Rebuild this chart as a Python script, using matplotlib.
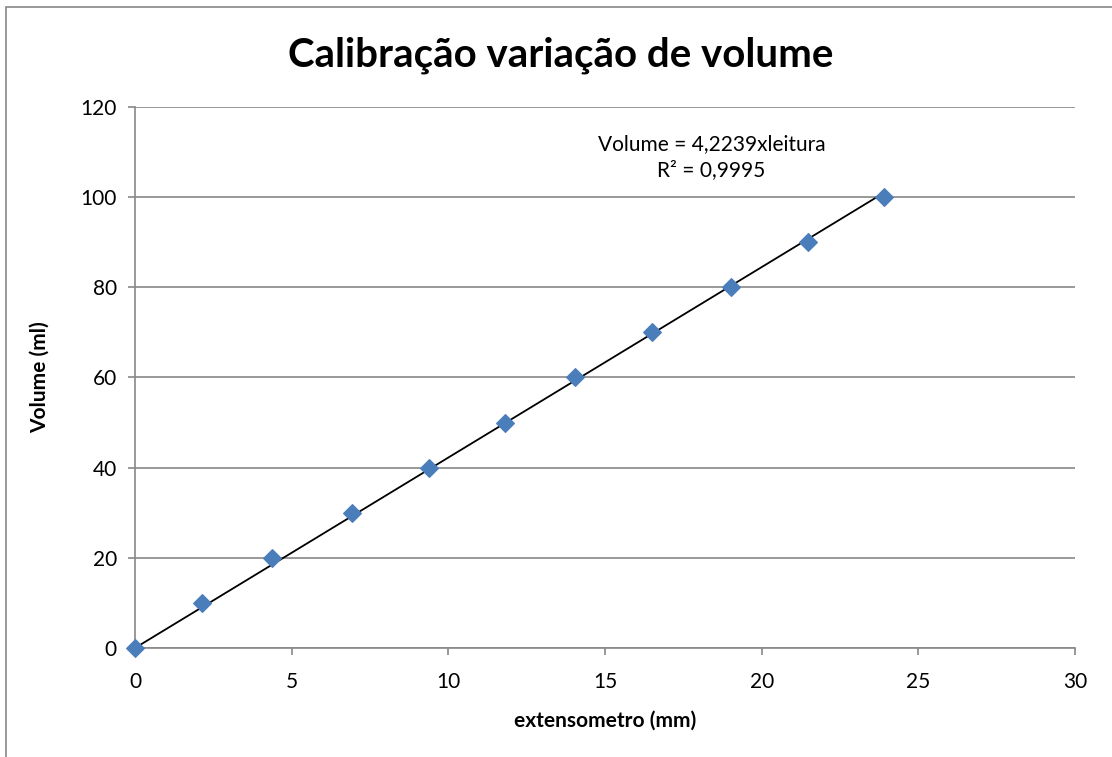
import matplotlib.pyplot as plt
import numpy as np

plt.rcParams['font.family'] = ['Lato', 'DejaVu Sans']

# dados da calibracao
leitura = [0, 2.14, 4.37, 6.93, 9.38, 11.81, 14.04, 16.5, 19.02, 21.48, 23.9]
volume = [0, 10, 20, 30, 40, 50, 60, 70, 80, 90, 100]
coef = 4.2239
r2 = 0.9995

fig = plt.figure(figsize=(11.12, 7.57), dpi=100)
ax = fig.add_axes([0.1214, 0.144, 0.8453, 0.7147])

# moldura externa do grafico
fig.patches.append(plt.Rectangle((0.005, -0.1), 1.2, 1.0908, transform=fig.transFigure,
                                 fill=False, edgecolor='#888888', linewidth=1.2))

xs = np.array([0, max(leitura)])
ax.plot(xs, coef * xs, color='black', linewidth=1.3, zorder=2)
ax.scatter(leitura, volume, marker='D', s=80, color='#4a7ebb', zorder=3, clip_on=False)

ax.set_xlim(0, 30)
ax.set_ylim(0, 120)
ax.set_xticks(range(0, 31, 5))
ax.set_yticks(range(0, 121, 20))
ax.grid(axis='y', color='#888888', linewidth=1.2)
ax.set_axisbelow(True)
for s in ['top', 'right']:
    ax.spines[s].set_visible(False)
for s in ['left', 'bottom']:
    ax.spines[s].set_color('#888888')
    ax.spines[s].set_linewidth(1.2)
ax.tick_params(axis='both', labelsize=15, colors='#888888', labelcolor='black', length=5, width=1.2)
ax.tick_params(axis='x', pad=12)
ax.tick_params(axis='y', pad=8)

# titulo centrado na figura
fig.text(0.5045, 0.927, 'Calibração variação de volume', fontsize=29, fontweight='bold',
         ha='center', va='center')
ax.set_xlabel('extensometro (mm)', fontsize=15, fontweight='bold', labelpad=14)
ax.set_ylabel('Volume (ml)', fontsize=15, fontweight='bold', labelpad=22)

ax.text(18.4, 114, 'Volume = %s' % str(coef).replace('.', ',') + 'xleitura\nR² = ' + str(r2).replace('.', ','),
        ha='center', va='top', fontsize=15, linespacing=1.35)

fig.savefig('out.png')
